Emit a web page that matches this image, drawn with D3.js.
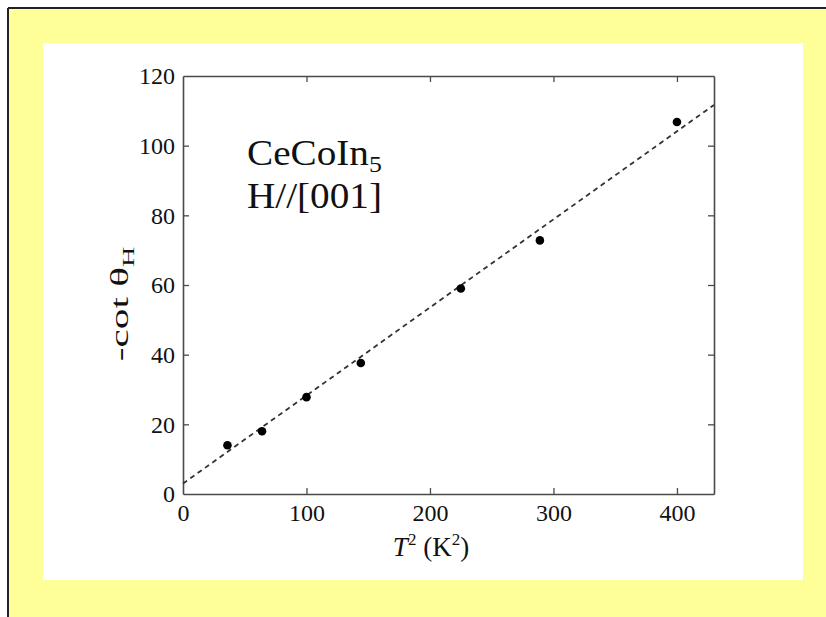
<!DOCTYPE html>
<html>
<head>
<meta charset="utf-8">
<script src="https://cdn.jsdelivr.net/npm/d3@7"></script>
<style>
  html, body { margin: 0; padding: 0; background: #ffffff; }
  svg { display: block; }
  text { font-family: "Liberation Serif", "Times New Roman", serif; fill: #111; }
</style>
</head>
<body>
<svg id="chart" width="826" height="617"></svg>
<script>
// Hall angle data: T^2 (K^2) vs -cot(theta_H)
const tSquared = [36, 64, 100, 144, 225, 289, 400];
const cotTheta = [14.0, 18.0, 27.8, 37.6, 59.0, 72.8, 106.8];

// Linear fit drawn as a dashed line: -cot(theta_H) = a + b * T^2
const fitX = [0, 430];
const fitY = [3.0, 111.7];

const xTicks = [0, 100, 200, 300, 400];
const yTicks = [0, 20, 40, 60, 80, 100, 120];

const svg = d3.select("#chart");

// Frame: yellow panel with a dark rule on the top and left, white card inside
svg.append("rect").attr("x", 9).attr("y", 9).attr("width", 817).attr("height", 608).attr("fill", "#ffff99");
svg.append("line").attr("x1", 8).attr("y1", 8).attr("x2", 826).attr("y2", 8).attr("stroke", "#222").attr("stroke-width", 2);
svg.append("line").attr("x1", 8).attr("y1", 8).attr("x2", 8).attr("y2", 617).attr("stroke", "#222").attr("stroke-width", 2);
svg.append("rect").attr("x", 43).attr("y", 43).attr("width", 760).attr("height", 537).attr("fill", "#ffffff");

const plot = { left: 183, right: 714, top: 76, bottom: 494 };

const x = d3.scaleLinear().domain([0, 430]).range([plot.left, plot.right]);
const y = d3.scaleLinear().domain([0, 120]).range([plot.bottom, plot.top]);

const axisColor = "#4a4a4a";
const tick = 6;

// Axes on all four sides, ticks pointing inward
const bottomAxis = d3.axisBottom(x).tickValues(xTicks).tickSizeInner(-tick).tickSizeOuter(0).tickPadding(10).tickFormat(d3.format("d"));
const topAxis = d3.axisTop(x).tickValues(xTicks.filter(d => d > 0)).tickSizeInner(-tick).tickSizeOuter(0).tickFormat("");
const leftAxis = d3.axisLeft(y).tickValues(yTicks).tickSizeInner(-tick).tickSizeOuter(0).tickPadding(8).tickFormat(d3.format("d"));
const rightAxis = d3.axisRight(y).tickValues(yTicks.filter(d => d > 0 && d < 120)).tickSizeInner(-tick).tickSizeOuter(0).tickFormat("");

function styleAxis(g) {
  g.select(".domain").attr("stroke", axisColor).attr("stroke-width", 1.6);
  g.selectAll(".tick line").attr("stroke", axisColor).attr("stroke-width", 1.3);
  g.selectAll(".tick text")
    .attr("font-family", "Liberation Serif, Times New Roman, serif")
    .attr("font-size", 24)
    .attr("fill", "#111");
}

svg.append("g").attr("transform", `translate(0,${plot.bottom})`).call(bottomAxis).call(styleAxis)
  .selectAll(".tick line").filter(d => d === 0).remove();
svg.append("g").attr("transform", `translate(0,${plot.top})`).call(topAxis).call(styleAxis);
svg.append("g").attr("transform", `translate(${plot.left},0)`).call(leftAxis).call(styleAxis)
  .selectAll(".tick line").filter(d => d === 0 || d === 120).remove();
svg.append("g").attr("transform", `translate(${plot.right},0)`).call(rightAxis).call(styleAxis);

// Dashed linear fit
const fit = fitX.map((d, i) => [d, fitY[i]]);
svg.append("path")
  .datum(fit)
  .attr("d", d3.line().x(d => x(d[0])).y(d => y(d[1])))
  .attr("fill", "none")
  .attr("stroke", "#333")
  .attr("stroke-width", 1.8)
  .attr("stroke-dasharray", "5,4");

// Measured points
svg.append("g").selectAll("circle")
  .data(tSquared.map((d, i) => [d, cotTheta[i]]))
  .join("circle")
  .attr("cx", d => x(d[0]))
  .attr("cy", d => y(d[1]))
  .attr("r", 4.3)
  .attr("fill", "#000");

// Y-axis title: -cot θ_H (set long along its reading direction)
const yTitle = svg.append("text")
  .attr("transform", "translate(128,304) rotate(-90) scale(1.65,1)")
  .attr("text-anchor", "middle")
  .attr("font-size", 25);
yTitle.append("tspan").text("-cot θ");
yTitle.append("tspan").attr("font-size", 17).attr("dy", 6).text("H");

// X-axis title: T^2 (K^2)
const xTitle = svg.append("text")
  .attr("x", 431)
  .attr("y", 556)
  .attr("text-anchor", "middle")
  .attr("font-size", 27);
xTitle.append("tspan").attr("font-style", "italic").text("T");
xTitle.append("tspan").attr("font-size", 17).attr("dy", -11).text("2");
xTitle.append("tspan").attr("dy", 11).text(" (K");
xTitle.append("tspan").attr("font-size", 17).attr("dy", -11).text("2");
xTitle.append("tspan").attr("dy", 11).text(")");

// Sample and field orientation (set slightly wide)
const notes = svg.append("g").attr("transform", "translate(247,0) scale(1.12,1)");
const note1 = notes.append("text").attr("x", 0).attr("y", 165).attr("font-size", 35);
note1.append("tspan").text("CeCoIn");
note1.append("tspan").attr("font-size", 23).attr("dy", 7).text("5");
notes.append("text").attr("x", 0).attr("y", 208).attr("font-size", 35).text("H//[001]");
</script>
</body>
</html>
